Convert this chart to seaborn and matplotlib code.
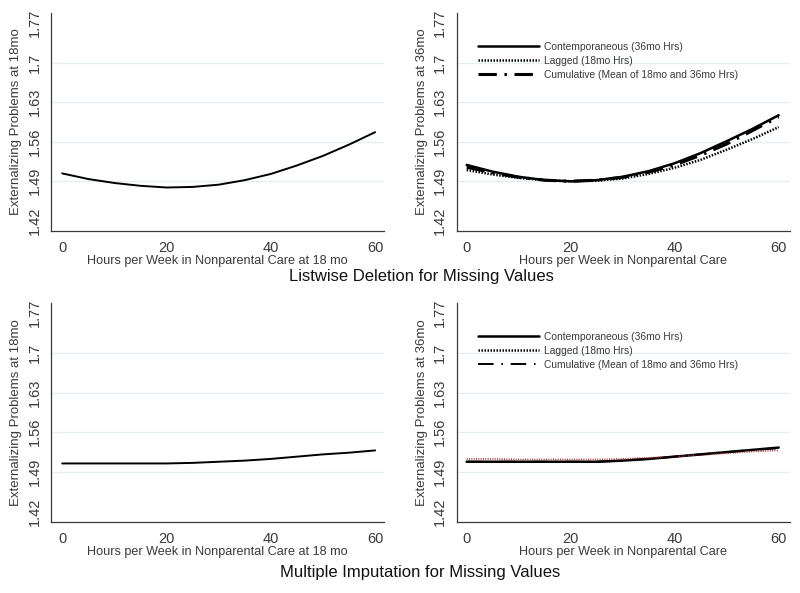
import numpy as np
import pandas as pd
import matplotlib
matplotlib.use('Agg')
import matplotlib.pyplot as plt
import seaborn as sns

# Hours per week in nonparental care (x grid)
hours = [0, 5, 10, 15, 20, 25, 30, 35, 40, 45, 50, 55, 60]

# Listwise deletion - 18mo outcome
ld_18 = [1.504, 1.494, 1.487, 1.482, 1.479, 1.480, 1.484, 1.492, 1.503, 1.518, 1.535, 1.555, 1.577]
# Listwise deletion - 36mo outcome
ld_contemp = [1.519, 1.507, 1.498, 1.492, 1.490, 1.492, 1.498, 1.508, 1.522, 1.540, 1.561, 1.583, 1.607]
ld_lagged = [1.510, 1.502, 1.496, 1.492, 1.490, 1.491, 1.495, 1.503, 1.514, 1.528, 1.546, 1.565, 1.586]
ld_cumul = [1.515, 1.505, 1.497, 1.492, 1.490, 1.492, 1.497, 1.506, 1.519, 1.536, 1.556, 1.580, 1.604]

# Multiple imputation - 18mo outcome
mi_18 = [1.505, 1.505, 1.505, 1.505, 1.505, 1.506, 1.508, 1.510, 1.513, 1.517, 1.521, 1.524, 1.528]
# Multiple imputation - 36mo outcome
mi_contemp = [1.508, 1.508, 1.508, 1.508, 1.508, 1.508, 1.510, 1.513, 1.517, 1.521, 1.525, 1.529, 1.533]
mi_lagged = [1.513, 1.513, 1.512, 1.512, 1.512, 1.512, 1.513, 1.515, 1.517, 1.520, 1.523, 1.526, 1.528]
mi_cumul = [1.508, 1.508, 1.508, 1.508, 1.508, 1.508, 1.510, 1.513, 1.517, 1.521, 1.525, 1.529, 1.532]

yticks = [1.42, 1.49, 1.56, 1.63, 1.70, 1.77]
ytick_labels = ['1.42', '1.49', '1.56', '1.63', '1.7', '1.77']
xticks = [0, 20, 40, 60]

legend_labels = ['Contemporaneous (36mo Hrs)', 'Lagged (18mo Hrs)',
                 'Cumulative (Mean of 18mo and 36mo Hrs)']

sns.set_style('white')
plt.rcParams['font.family'] = ['Liberation Sans', 'DejaVu Sans']
text_col = '#3a3a3a'

fig = plt.figure(figsize=(8, 5.93), dpi=100)
ax_tl = fig.add_axes([0.064, 0.6105, 0.416, 0.3675])
ax_tr = fig.add_axes([0.571, 0.6105, 0.416, 0.3675])
ax_bl = fig.add_axes([0.064, 0.120, 0.416, 0.369])
ax_br = fig.add_axes([0.571, 0.120, 0.416, 0.369])


def style_axis(ax, xlabel, ylabel, xlim):
    ax.set_ylim(1.402, 1.788)
    ax.set_xlim(*xlim)
    ax.set_yticks(yticks)
    ax.set_yticklabels(ytick_labels, rotation=90, va='center')
    ax.set_xticks(xticks)
    ax.tick_params(axis='both', direction='out', length=4, width=0.8,
                   color=text_col, labelcolor=text_col, labelsize=10.5, pad=3)
    ax.set_xlabel(xlabel, fontsize=9.1, color=text_col, labelpad=0)
    ax.set_ylabel(ylabel, fontsize=9.5, color=text_col, labelpad=4)
    for side in ['top', 'right']:
        ax.spines[side].set_visible(False)
    for side in ['left', 'bottom']:
        ax.spines[side].set_color(text_col)
        ax.spines[side].set_linewidth(0.9)
    ax.yaxis.grid(True, color='#e6eef0', linewidth=1.0)
    ax.set_axisbelow(True)
    gls = ax.yaxis.get_gridlines()
    gls[0].set_visible(False)
    gls[-1].set_visible(False)


# top-left
sns.lineplot(x=hours, y=ld_18, ax=ax_tl, color='black', linewidth=1.4)
style_axis(ax_tl, 'Hours per Week in Nonparental Care at 18 mo',
           'Externalizing Problems at 18mo', (-2.1, 61.7))

# top-right
sns.lineplot(x=hours, y=ld_lagged, ax=ax_tr, color='black', linewidth=1.8,
             linestyle=(0, (0.6, 0.6)), label=legend_labels[1])
sns.lineplot(x=hours, y=ld_cumul, ax=ax_tr, color='black', linewidth=2.2,
             linestyle=(0, (6, 2.5, 0.8, 2.5)), label=legend_labels[2])
sns.lineplot(x=hours, y=ld_contemp, ax=ax_tr, color='black', linewidth=1.8,
             label=legend_labels[0])
style_axis(ax_tr, 'Hours per Week in Nonparental Care',
           'Externalizing Problems at 36mo', (-1.9, 62.1))

# bottom-left
sns.lineplot(x=hours, y=mi_18, ax=ax_bl, color='black', linewidth=1.4)
style_axis(ax_bl, 'Hours per Week in Nonparental Care at 18 mo',
           'Externalizing Problems at 18mo', (-2.1, 61.7))

# bottom-right
sns.lineplot(x=hours, y=mi_contemp, ax=ax_br, color='black', linewidth=1.8,
             label=legend_labels[0])
sns.lineplot(x=hours, y=mi_lagged, ax=ax_br, color='#b03030', linewidth=1.2,
             linestyle=(0, (0.6, 0.8)), label=legend_labels[1])
sns.lineplot(x=hours, y=mi_cumul, ax=ax_br, color='black', linewidth=1.4,
             linestyle=(0, (8, 4, 0.8, 4)), label=legend_labels[2])
style_axis(ax_br, 'Hours per Week in Nonparental Care',
           'Externalizing Problems at 36mo', (-1.9, 62.1))

# legends
for ax in [ax_tr, ax_br]:
    handles, labels = ax.get_legend_handles_labels()
    lookup = dict(zip(labels, handles))
    hs = [lookup[l] for l in legend_labels]
    leg = ax.legend(hs, legend_labels, loc='upper left', bbox_to_anchor=(0.063, 0.868),
                    frameon=False, fontsize=7.4, handlelength=6.0, handletextpad=0.45,
                    labelspacing=0.38, borderaxespad=0, borderpad=0)
    for t in leg.get_texts():
        t.set_color(text_col)
    # legend handles drawn in black, lagged a bit heavier
    for h in leg.legend_handles:
        h.set_color('black')
    leg.legend_handles[1].set_linewidth(1.8)
    leg.legend_handles[1].set_linestyle((0, (0.6, 0.6)))

fig.text(0.527, 1 - 277 / 593, 'Listwise Deletion for Missing Values',
         ha='center', va='center', fontsize=12, color='#111111')
fig.text(0.525, 1 - 573 / 593, 'Multiple Imputation for Missing Values',
         ha='center', va='center', fontsize=12, color='#111111')

fig.savefig('out.png', dpi=100)
